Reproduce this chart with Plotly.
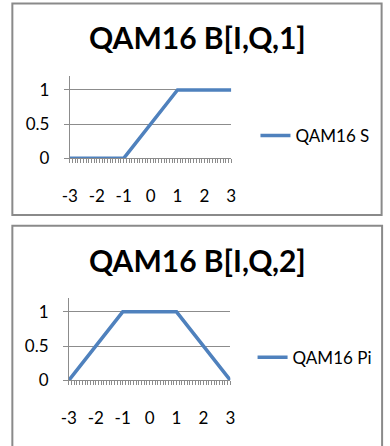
import plotly.graph_objects as go

# Data (breakpoints of the piecewise-linear series)
x_s = [-3, -1, 1, 3]
y_s = [0, 0, 1, 1]
x_pi = [-3, -1, 1, 3]
y_pi = [0, 1, 1, 0]
x_ticks = [-3, -2, -1, 0, 1, 2, 3]
x_ticklabels = ["-3", "-2", "-1", "0", "1", "2", "3"]
y_ticks = [0, 0.5, 1]
y_ticklabels = ["0", "0.5", "1"]
titles = ["QAM16 B[I,Q,1]", "QAM16 B[I,Q,2]"]
names = ["QAM16 S", "QAM16 Pi"]

W, H = 390, 446
FONT = "Lato"
LINE_COLOR = "#4F81BD"
GRID = "#8C8C8C"

def px(v):
    return v / W

def py(v):
    return 1 - v / H

fig = go.Figure()
fig.add_trace(go.Scatter(x=x_s, y=y_s, mode="lines", name=names[0],
                         line=dict(color=LINE_COLOR, width=3.5),
                         xaxis="x", yaxis="y", legend="legend"))
fig.add_trace(go.Scatter(x=x_pi, y=y_pi, mode="lines", name=names[1],
                         line=dict(color=LINE_COLOR, width=3.5),
                         xaxis="x2", yaxis="y2", legend="legend2"))

def xaxis_cfg(domain, anchor):
    return dict(domain=domain, anchor=anchor, range=[-3, 3],
                tickvals=x_ticks, ticktext=x_ticklabels,
                ticks="outside", ticklen=4, tickcolor=GRID, tickwidth=1,
                minor=dict(dtick=0.1, tick0=-3, ticks="outside", ticklen=4,
                           tickcolor=GRID, tickwidth=1, showgrid=False),
                showline=True, linecolor=GRID, linewidth=1,
                showgrid=False, zeroline=False, fixedrange=True,
                tickfont=dict(family=FONT, size=17, color="#000"),
                ticklabelstandoff=18)

def yaxis_cfg(domain, anchor):
    return dict(domain=domain, anchor=anchor, range=[0, 1.2],
                tickvals=y_ticks, ticktext=y_ticklabels,
                ticks="outside", ticklen=5, tickcolor=GRID, tickwidth=1,
                showline=True, linecolor=GRID, linewidth=1,
                showgrid=True, gridcolor=GRID, gridwidth=1,
                zeroline=False, fixedrange=True,
                tickfont=dict(family=FONT, size=17, color="#000"),
                ticklabelstandoff=11)

fig.update_layout(
    width=W, height=H, margin=dict(l=0, r=0, t=0, b=0),
    paper_bgcolor="white", plot_bgcolor="white",
    xaxis=xaxis_cfg([px(64), px(231)], "y"),
    yaxis=yaxis_cfg([py(162), py(78)], "x"),
    xaxis2=xaxis_cfg([px(63), px(230)], "y2"),
    yaxis2=yaxis_cfg([py(389), py(305)], "x2"),
    legend=dict(x=px(256), y=py(139), xanchor="left", yanchor="middle",
                font=dict(family=FONT, size=17, color="#000"),
                bgcolor="rgba(0,0,0,0)", itemwidth=30),
    legend2=dict(x=px(253), y=py(366), xanchor="left", yanchor="middle",
                 font=dict(family=FONT, size=17, color="#000"),
                 bgcolor="rgba(0,0,0,0)", itemwidth=30),
    showlegend=True,
)

fig.add_annotation(text="<b>" + titles[0] + "</b>", x=px(196), y=py(38),
                   xref="paper", yref="paper", showarrow=False,
                   xanchor="center", yanchor="middle",
                   font=dict(family=FONT, size=30, color="#000"))
fig.add_annotation(text="<b>" + titles[1] + "</b>", x=px(196), y=py(266),
                   xref="paper", yref="paper", showarrow=False,
                   xanchor="center", yanchor="middle",
                   font=dict(family=FONT, size=30, color="#000"))

# Chart borders
fig.add_shape(type="rect", xref="paper", yref="paper",
              x0=px(4.5), x1=px(386.5), y0=py(220), y1=py(3.5),
              line=dict(color="#8A8A8A", width=2), fillcolor="rgba(0,0,0,0)")
fig.add_shape(type="rect", xref="paper", yref="paper",
              x0=px(4.5), x1=px(387), y0=py(460), y1=py(231),
              line=dict(color="#8A8A8A", width=2), fillcolor="rgba(0,0,0,0)")

fig.write_html("out.html")
